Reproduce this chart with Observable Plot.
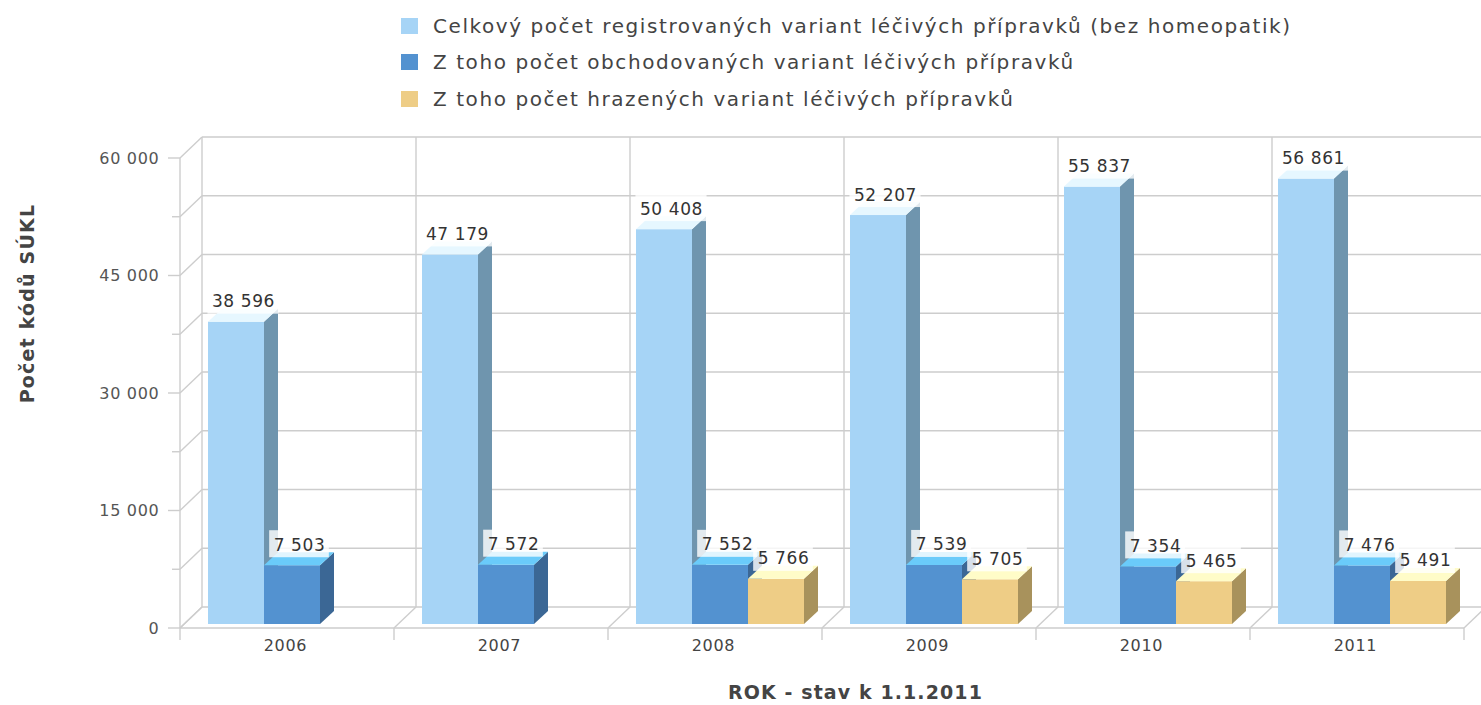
<!DOCTYPE html>
<html>
<head>
<meta charset="utf-8">
<script src="https://cdn.jsdelivr.net/npm/d3@7"></script>
<script src="https://cdn.jsdelivr.net/npm/@observablehq/plot@0.6"></script>
<style>
  html, body { margin: 0; padding: 0; background: #fff; }
  body { width: 1481px; height: 705px; overflow: hidden; font-family: "DejaVu Sans", sans-serif; }
  #legend { position: relative; height: 115px; }
  .row { position: absolute; left: 401px; height: 20px; display: flex; align-items: center;
         font-size: 20px; letter-spacing: 1.57px; color: #444; white-space: nowrap; }
  .sw { width: 17px; height: 16px; margin-right: 15px; flex: none; }
  #chart svg { display: block; }
</style>
</head>
<body>
<div id="legend"></div>
<div id="chart"></div>
<script>
// ---- data ----
const years = ["2006", "2007", "2008", "2009", "2010", "2011"];
const totalCounts = [38596, 47179, 50408, 52207, 55837, 56861];
const tradedCounts = [7503, 7572, 7552, 7539, 7354, 7476];
const reimbursedCounts = [null, null, 5766, 5705, 5465, 5491];
const seriesNames = [
  "Celkový počet registrovaných variant léčivých přípravků (bez homeopatik)",
  "Z toho počet obchodovaných variant léčivých přípravků",
  "Z toho počet hrazených variant léčivých přípravků"
];
const yTickValues = [0, 15000, 30000, 45000, 60000];
const yMax = 60000;
const gridStep = 7500;
const yTitle = "Počet kódů SÚKL";
const xTitle = "ROK - stav k 1.1.2011";

// ---- styles ----
const frontColors = ["#a6d4f6", "#5392d0", "#eecd86"];
const sideColors = ["#6f95ae", "#3b6795", "#a8925c"];
const topColors = ["#e6f7ff", "#6acbfa", "#fffcc8"];
const GRID = "#cdcdcd";

const W = 1481, H = 590;
const M = {top: 43, right: 17, bottom: 77, left: 180};
const BANDW = (W - M.left - M.right) / years.length;
const BAR_PAD = 28, BAR_W = 56, BAR_LIFT = -4, DEPTH_X = 14, DEPTH_Y = -13;
const WALL_X = 22, WALL_Y = -21;
const VALUE_FONT = 17, VALUE_LS = 0.6, LABEL_SHIFT = 7, LABEL_GAP = 15;

const seriesValues = [totalCounts, tradedCounts, reimbursedCounts];
const rows = seriesValues.flatMap((vals, s) => years.map((year, i) => ({year, s, value: vals[i]})))
  .filter(d => d.value != null);

const fmt = d3.formatLocale({decimal: ",", thousands: " ", grouping: [3], currency: ["", ""]}).format(",d");

// ---- legend ----
const legend = d3.select("#legend");
const rowCenters = [25.5, 62, 98.5];
seriesNames.forEach((name, i) => {
  const r = legend.append("div").attr("class", "row").style("top", (rowCenters[i] - 10) + "px");
  r.append("div").attr("class", "sw").style("background", frontColors[i]);
  r.append("span").text(name);
});

// set letter spacing on a mark's group
function spaced(mark, ls) {
  const render = mark.render;
  mark.render = function(...args) {
    const node = render.apply(this, args);
    if (node) node.setAttribute("letter-spacing", ls);
    return node;
  };
  return mark;
}

// ---- custom 3D pieces drawn with the plot's scales ----
function wallMark(index, {x, y}, values, {width, marginLeft, marginRight}) {
  const g = d3.create("svg:g").attr("fill", "none").attr("stroke", GRID).attr("stroke-width", 1.4);
  const x0 = marginLeft, x1 = width - marginRight;
  const line = (a, b, c, d) => g.append("line").attr("x1", a).attr("y1", b).attr("x2", c).attr("y2", d);
  const levels = d3.range(0, yMax + 1, gridStep);
  const bounds = years.map(d => x(d)).concat([x(years[years.length - 1]) + x.bandwidth()]);
  for (const v of levels) {
    line(x0 + WALL_X, y(v) + WALL_Y, width + 30, y(v) + WALL_Y);
    line(x0, y(v), x0 + WALL_X, y(v) + WALL_Y);
    line(x0 - (yTickValues.includes(v) ? 12 : 8), y(v), x0, y(v));
  }
  for (const b of bounds) {
    line(b + WALL_X, y(0) + WALL_Y, b + WALL_X, y(yMax) + WALL_Y);
    line(b, y(0), b + WALL_X, y(0) + WALL_Y);
    line(b, y(0), b, y(0) + 12);
  }
  line(x0, y(0), x0, y(yMax));
  line(x0, y(0), x1, y(0));
  return g.node();
}

const bar3d = s => (index, {x, y}) => {
  const g = d3.create("svg:g");
  for (const d of rows.filter(r => r.s === s)) {
    const xl = x(d.year) + BAR_PAD + s * BAR_W, xr = xl + BAR_W;
    const yb = y(0) + BAR_LIFT, yt = y(d.value) + BAR_LIFT;
    g.append("polygon")
      .attr("points", [[xr, yb], [xr + DEPTH_X, yb + DEPTH_Y], [xr + DEPTH_X, yt + DEPTH_Y], [xr, yt]].join(" "))
      .attr("fill", sideColors[s]);
    g.append("polygon")
      .attr("points", [[xl, yt], [xr, yt], [xr + DEPTH_X, yt + DEPTH_Y], [xl + DEPTH_X, yt + DEPTH_Y]].join(" "))
      .attr("fill", topColors[s]);
  }
  return g.node();
};

function labelBoxes(index, {x, y}) {
  const ctx = document.createElement("canvas").getContext("2d");
  ctx.font = `${VALUE_FONT}px "DejaVu Sans"`;
  const g = d3.create("svg:g").attr("fill", "#ffffff").attr("fill-opacity", 0.8);
  for (const d of rows) {
    const t = fmt(d.value);
    const w = ctx.measureText(t).width + VALUE_LS * t.length;
    const cx = x(d.year) + BAR_PAD + d.s * BAR_W + BAR_W / 2 + LABEL_SHIFT;
    const base = y(d.value) + BAR_LIFT - LABEL_GAP;
    g.append("rect").attr("x", cx - w / 2 - 4).attr("y", base - 20).attr("width", w + 8).attr("height", 27);
  }
  return g.node();
}

const marks = [wallMark];
for (let s = 0; s < 3; s++) {
  marks.push(Plot.barY(rows.filter(d => d.s === s), {
    x: "year", y: "value", fill: frontColors[s],
    insetLeft: BAR_PAD + s * BAR_W, insetRight: BANDW - BAR_PAD - (s + 1) * BAR_W, dy: BAR_LIFT
  }));
  marks.push(bar3d(s));
}
marks.push(labelBoxes);
for (let s = 0; s < 3; s++) {
  marks.push(spaced(Plot.text(rows.filter(d => d.s === s), {
    x: "year", y: "value", text: d => fmt(d.value),
    dx: BAR_PAD + s * BAR_W + BAR_W / 2 + LABEL_SHIFT - BANDW / 2,
    dy: BAR_LIFT - LABEL_GAP, lineAnchor: "bottom",
    fontSize: VALUE_FONT, fill: "#333"
  }), VALUE_LS));
}
marks.push(Plot.axisY({ticks: yTickValues, tickFormat: fmt, tickSize: 0, tickPadding: 21, label: null, fontSize: 16, color: "#555"}));
marks.push(Plot.axisX({tickSize: 0, tickPadding: 11, label: null, fontSize: 16, color: "#444", dx: -2}));
marks.push(spaced(Plot.text([yTitle], {text: d => d, frameAnchor: "left", textAnchor: "middle", rotate: -90,
  dx: 27 - M.left, dy: -90, fontSize: 19, fontWeight: "bold", fill: "#444"}), 1.2));
marks.push(spaced(Plot.text([xTitle], {text: d => d, frameAnchor: "bottom", textAnchor: "middle", lineAnchor: "bottom",
  dx: 33, dy: 70, fontSize: 19, fontWeight: "bold", fill: "#444"}), 1.1));

const chart = Plot.plot({
  width: W, height: H,
  marginTop: M.top, marginRight: M.right, marginBottom: M.bottom, marginLeft: M.left,
  style: {fontFamily: "DejaVu Sans", background: "#fff", color: "#555", overflow: "visible", letterSpacing: "0.7px"},
  x: {type: "band", domain: years, padding: 0},
  y: {domain: [0, yMax]},
  marks
});
document.getElementById("chart").appendChild(chart);
</script>
</body>
</html>
